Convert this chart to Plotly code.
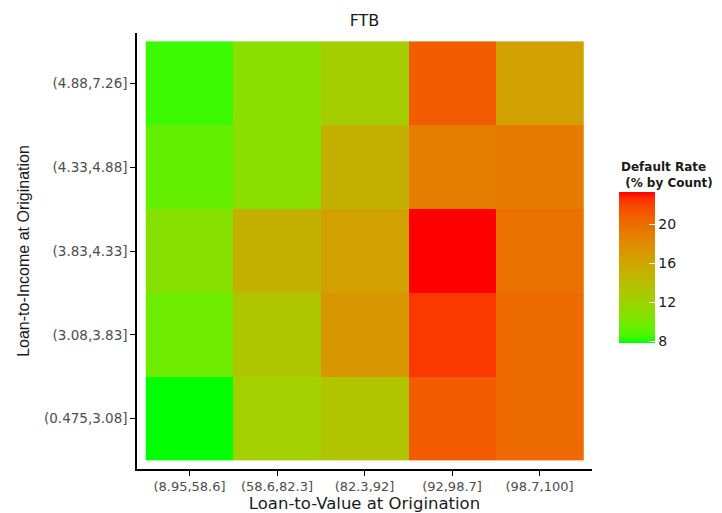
import plotly.graph_objects as go
import numpy as np

title = "FTB"
ltv_bins = ["(8.95,58.6]", "(58.6,82.3]", "(82.3,92]", "(92,98.7]", "(98.7,100]"]
lti_bins = ["(0.475,3.08]", "(3.08,3.83]", "(3.83,4.33]", "(4.33,4.88]", "(4.88,7.26]"]

# default rate (% by count), rows follow lti_bins (bottom to top)
rate_lti_0475_308 = [7.84, 12.32, 13.41, 20.98, 20.21]
rate_lti_308_383 = [9.70, 13.25, 17.27, 22.37, 20.21]
rate_lti_383_433 = [10.78, 15.11, 16.34, 23.30, 19.74]
rate_lti_433_488 = [9.39, 10.93, 15.11, 18.97, 19.13]
rate_lti_488_726 = [8.46, 10.93, 12.48, 20.98, 16.34]

z = [rate_lti_0475_308, rate_lti_308_383, rate_lti_383_433, rate_lti_433_488, rate_lti_488_726]
cb_ticks = [8, 12, 16, 20]


# green -> red gradient interpolated in CIE Lab (ggplot style)
def srgb_to_lab(rgb):
    c = np.array(rgb) / 255.0
    c = np.where(c > 0.04045, ((c + 0.055) / 1.055) ** 2.4, c / 12.92)
    M = np.array([[0.4124, 0.3576, 0.1805], [0.2126, 0.7152, 0.0722], [0.0193, 0.1192, 0.9505]])
    xyz = M @ c
    xyz = xyz / np.array([0.95047, 1.0, 1.08883])
    f = np.where(xyz > 0.008856, np.cbrt(xyz), 7.787 * xyz + 16 / 116)
    return np.array([116 * f[1] - 16, 500 * (f[0] - f[1]), 200 * (f[1] - f[2])])


def lab_to_srgb(lab):
    L, a, b = lab
    fy = (L + 16) / 116
    fx = fy + a / 500
    fz = fy - b / 200
    f = np.array([fx, fy, fz])
    xyz = np.where(f ** 3 > 0.008856, f ** 3, (f - 16 / 116) / 7.787)
    xyz = xyz * np.array([0.95047, 1.0, 1.08883])
    Minv = np.array([[3.2406, -1.5372, -0.4986], [-0.9689, 1.8758, 0.0415], [0.0557, -0.2040, 1.0570]])
    c = Minv @ xyz
    c = np.clip(c, 0, 1)
    c = np.where(c > 0.0031308, 1.055 * c ** (1 / 2.4) - 0.055, 12.92 * c)
    c = np.clip(np.round(c * 255), 0, 255).astype(int)
    return "rgb(%d,%d,%d)" % tuple(c)


lo = srgb_to_lab((0, 255, 0))
hi = srgb_to_lab((255, 0, 0))
colorscale = [[t, lab_to_srgb(lo + (hi - lo) * t)] for t in np.linspace(0, 1, 21)]

# page is offset by the default 8px body margin, so the figure is 8px smaller
W, H = 714, 505
OFF = 8
wide_font = "DejaVu Sans, Verdana, sans-serif"
narrow_font = "Liberation Sans, Arial, sans-serif"
text_dark = "#1a1a1a"
tick_grey = "#4d4d4d"

# plot area in page pixels
PL, PR, PT, PB = 137, 592, 33, 469
PW, PH = PR - PL, PB - PT

fig = go.Figure(
    go.Heatmap(
        z=z,
        x=ltv_bins,
        y=lti_bins,
        colorscale=colorscale,
        xgap=0,
        ygap=0,
        colorbar=dict(
            tickvals=cb_ticks,
            ticks="inside",
            ticklen=6,
            tickcolor="white",
            tickwidth=1,
            tickfont=dict(size=14, color=text_dark, family=wide_font),
            thickness=36,
            thicknessmode="pixels",
            len=151,
            lenmode="pixels",
            x=(619 - PL) / PW,
            xanchor="left",
            y=(PB - 343) / PH,
            yanchor="bottom",
            outlinewidth=0,
            xpad=0,
            ypad=0,
        ),
    )
)

fig.update_layout(
    width=W,
    height=H,
    margin=dict(l=PL - OFF, r=722 - PR, t=PT - OFF, b=513 - PB, autoexpand=False),
    paper_bgcolor="white",
    plot_bgcolor="white",
    font=dict(family=wide_font),
    title=dict(text=title, x=((PL + PR) / 2 - OFF) / W, xanchor="center",
               y=1 - (20 - OFF) / H, yanchor="middle",
               font=dict(size=16, color=text_dark, family=wide_font)),
    annotations=[
        dict(text="<b>Default Rate<br> (% by Count)</b>", xref="paper", yref="paper",
             x=(619 - PL) / PW, y=(PB - 158) / PH, xanchor="left", yanchor="top",
             align="left", showarrow=False,
             font=dict(size=12, color=text_dark, family=wide_font)),
    ],
)
fig.update_xaxes(
    range=[-0.6, 4.6], automargin=False,
    showline=True, linecolor="black", linewidth=1.5,
    ticks="outside", ticklen=5, tickcolor="black", tickwidth=1,
    showgrid=False, zeroline=False,
    tickfont=dict(size=13, color=tick_grey, family=wide_font),
    title=dict(text="Loan-to-Value at Origination", font=dict(size=16.5, color=text_dark, family=wide_font), standoff=4),
)
fig.update_yaxes(
    range=[-0.6, 4.6], automargin=False,
    showline=True, linecolor="black", linewidth=1.5,
    ticks="outside", ticklen=5, tickcolor="black", tickwidth=1,
    showgrid=False, zeroline=False,
    tickfont=dict(size=13.5, color=tick_grey, family=wide_font),
    title=dict(text="Loan-to-Income at Origination", font=dict(size=16, color=text_dark, family=narrow_font), standoff=10),
)

fig.write_html("out.html")
